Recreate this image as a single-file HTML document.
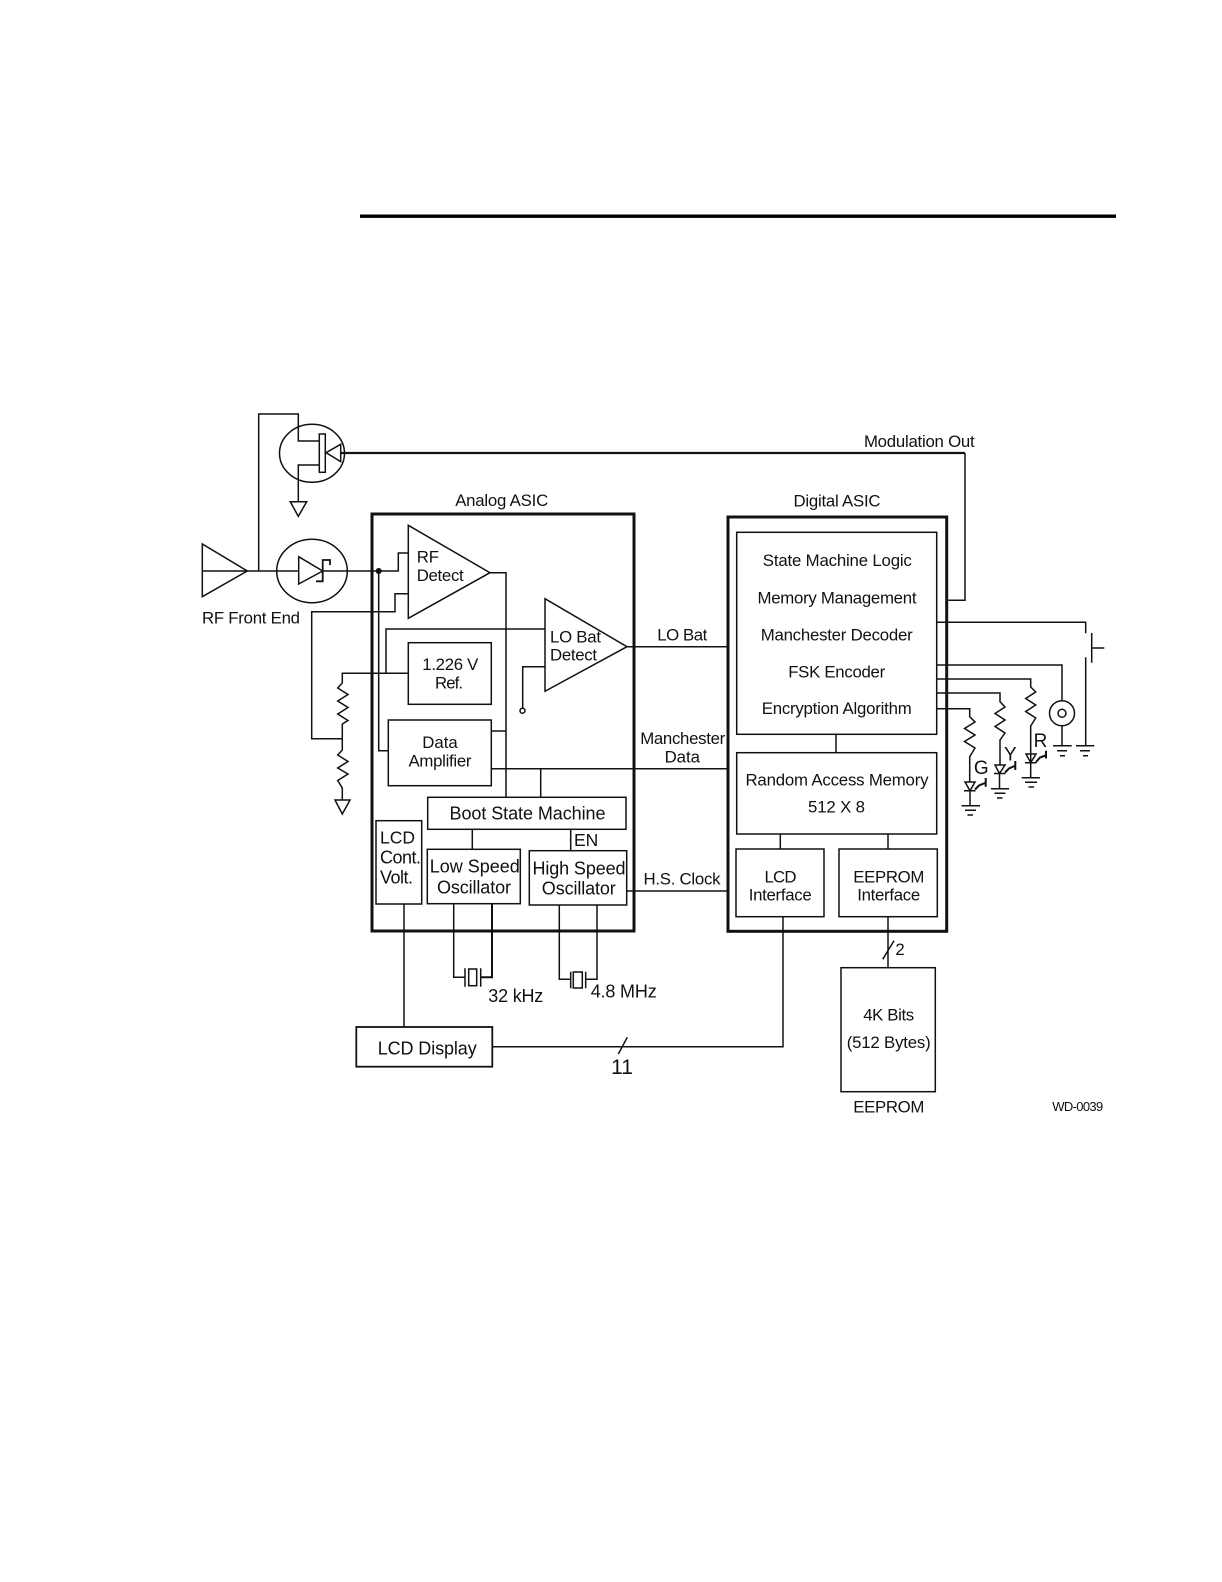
<!DOCTYPE html>
<html><head><meta charset="utf-8"><style>
html,body{margin:0;padding:0;background:#fff}
svg{display:block}
text{font-family:"Liberation Sans",Arial,sans-serif;font-size:16.8px;fill:#111;text-anchor:middle}
.s{text-anchor:start}
</style></head><body>
<svg xmlns="http://www.w3.org/2000/svg" width="1222" height="1582" viewBox="0 0 1222 1582">
<rect x="360" y="214.5" width="756" height="3.4" fill="#000"/>
<g fill="none" stroke="#111" stroke-width="1.5">
<!-- FET -->
<path d="M202.3 571H298.7M258.7 571V414H298.3V441H319M319 465H298.3V501.7"/>
<ellipse cx="312" cy="453.3" rx="32.5" ry="29"/>
<rect x="319.3" y="434" width="6" height="38.3"/>
<path d="M326 452.7L340.7 444.3V461.7Z"/>
<path d="M290.3 501.7H306.7L298.3 516.3Z"/>
<path d="M341 453H965" stroke-width="2.2"/>
<path d="M965 453V600.3H948.3"/>
<!-- antenna -->
<path d="M202.3 544V596.7L247.3 571Z"/>
<ellipse cx="312" cy="571" rx="35.3" ry="31.7"/>
<path d="M298.7 556.7V584L322.7 571Z"/>
<path d="M316 581.3H322.7V560H330V565" stroke-width="1.8"/>
<path d="M322.7 571H398.3V553H408.3"/>
<path d="M378.7 571V750.7H388.3"/>
<path d="M408.3 593.7H395V611.7H311.7V738.7H342.3"/>
<!-- analog -->
<rect x="372" y="514" width="262" height="417" stroke-width="3"/>
<path d="M408.3 525.3V618.3L490 572.7Z"/>
<path d="M490 572.7H506V797.3"/>
<path d="M545 598.7V691.3L627 646.7Z"/>
<path d="M545 629H386V673.3"/>
<path d="M545 666.7H522.7V708"/>
<circle cx="522.5" cy="710.7" r="2.5"/>
<rect x="408.3" y="642.7" width="83" height="61.6"/>
<path d="M408.3 673.3H342.3V683L337.7 688L348 694.5L337.7 701L348 707.5L337.7 714L348 720.5L342.3 724V750L337.7 755L348 761.5L337.7 768L348 774L337.7 780.5L342.3 788V800"/>
<path d="M335 800H350L342.3 814Z"/>
<rect x="388.3" y="720" width="103" height="65.7"/>
<path d="M491.3 731H506"/>
<path d="M491.3 768.7H728M540.7 768.7V797.3"/>
<rect x="427.7" y="797.3" width="198.3" height="32"/>
<rect x="376" y="820.7" width="45.7" height="83.3"/>
<rect x="427.3" y="849.3" width="93" height="54.4"/>
<rect x="529.3" y="850.7" width="97.4" height="54.3"/>
<path d="M472.3 829.3V849.3M570.7 829.3V850.7"/>
<path d="M626.7 891H728M627 646.7H728"/>
<!-- crystals -->
<path d="M453.7 903.7V977.3H465M465 968.3V986.7M480.7 968.3V986.7"/>
<path d="M480.7 977.3H492V903.7" stroke-width="2"/>
<rect x="468.7" y="969" width="8" height="16.7"/>
<path d="M559.3 905V979.3H570.7M570.7 971.7V988.3M585.7 971.7V988.3M585.7 979.3H597V905"/>
<rect x="573.3" y="972" width="9" height="16"/>
<!-- LCD -->
<path d="M404 904V1027"/>
<rect x="356.3" y="1027" width="136" height="39.7" stroke-width="1.8"/>
<path d="M492.3 1046.7H783V916.7M618.3 1054L627.3 1037.3"/>
<!-- digital -->
<rect x="728" y="517" width="218.7" height="414.3" stroke-width="3"/>
<rect x="736.7" y="532.3" width="200" height="202"/>
<rect x="736.7" y="752.7" width="200" height="81.3"/>
<rect x="736" y="849" width="88" height="67.7"/>
<rect x="839" y="849" width="98.3" height="67.7"/>
<path d="M836 734.3V752.7M780.3 834V849M888 834V849M888 916.7V967.5M882.7 959.3L894 940.7"/>
<rect x="841" y="967.7" width="94.3" height="124"/>
<!-- switch / speaker -->
<path d="M936.7 622.3H1085.7V633.3M1085.7 657.3V745.7"/>
<path d="M1091.7 633V662.7M1091.7 648H1104.3"/>
<path d="M936.7 665H1062V701M1062 725.8V745.7"/>
<circle cx="1062" cy="713.3" r="12.5"/>
<circle cx="1062" cy="713.3" r="4"/>
<path d="M1053 745.7H1071.7M1057 750.7H1067M1060 755.7H1065"/>
<path d="M1076 745.7H1094.3M1080 750.7H1090M1083 755.7H1088"/>
<!-- R -->
<path d="M936.7 679H1030.7V687L1035.7 692L1025.7 698.5L1035.7 705L1025.7 711.5L1035.7 718L1030.7 726V777"/>
<path d="M1026 754H1036L1030.7 762.7ZM1025 762.7H1036.5"/>
<path d="M1036 762L1040 757.5L1045.5 755.5M1046 750.7V758.5" stroke-width="2"/>
<path d="M1021.7 777.7H1040M1025 782.3H1037M1028.5 787H1034"/>
<!-- Y -->
<path d="M936.7 693H1000V701.7L1005 707L995 713.5L1005 720L995 726.5L1005 733L1000 740V765M999.5 773V788.7"/>
<path d="M995 765H1005L999.5 773.5ZM994 773.5H1005.5"/>
<path d="M1005 772.5L1009 768.5L1014.5 766M1015.3 761V770" stroke-width="2"/>
<path d="M991 788.7H1009M994.5 793.3H1005.5M997 798H1002.5"/>
<!-- G -->
<path d="M936.7 708.7H969.7V716.7L975 722L964.5 728.5L975 735L964.5 741.5L975 748L969.7 756.7V782M970 790V805.7"/>
<path d="M965 782H975L970 790.7ZM964 790.7H975.5"/>
<path d="M975 789.5L979 785.5L985 783M985.7 778V786.7" stroke-width="2"/>
<path d="M961.5 805.7H980M965 810.3H976M967.5 815H973"/>
</g>
<circle cx="378.7" cy="571" r="3" fill="#111"/>
<!-- labels -->
<text x="919.3" y="447" textLength="110.7">Modulation Out</text>
<text x="501.7" y="506" textLength="93">Analog ASIC</text>
<text x="837" y="506.7" textLength="87">Digital ASIC</text>
<text x="837.3" y="566" textLength="149">State Machine Logic</text>
<text x="837" y="603.3" textLength="159">Memory Management</text>
<text x="836.7" y="640.3" textLength="152">Manchester Decoder</text>
<text x="836.7" y="677.3" textLength="97">FSK Encoder</text>
<text x="836.7" y="714" textLength="150">Encryption Algorithm</text>
<text x="837" y="785.3" textLength="183">Random Access Memory</text>
<text x="836.5" y="812.7" textLength="57">512 X 8</text>
<text x="780.5" y="882.3" textLength="32">LCD</text>
<text x="780.2" y="900.7" textLength="63">Interface</text>
<text x="888.8" y="882.3" textLength="71">EEPROM</text>
<text x="888.7" y="900.7" textLength="63">Interface</text>
<text x="900" y="955">2</text>
<text x="888.7" y="1020.3" textLength="51">4K Bits</text>
<text x="888.7" y="1048" textLength="84">(512 Bytes)</text>
<text x="888.8" y="1112.7" textLength="71">EEPROM</text>
<text x="1077.7" y="1111" textLength="51" style="font-size:13px">WD-0039</text>
<text x="1040.5" y="747" style="font-size:19px">R</text>
<text x="1010.3" y="760.7" style="font-size:19px">Y</text>
<text x="981.3" y="774" style="font-size:19px">G</text>
<text x="251" y="623.3" textLength="98">RF Front End</text>
<text class="s" x="416.7" y="562.7">RF</text>
<text class="s" x="416.7" y="581" textLength="47">Detect</text>
<text class="s" x="550" y="642.3" textLength="51">LO Bat</text>
<text class="s" x="550" y="660.7" textLength="47">Detect</text>
<text x="450.3" y="670" textLength="56">1.226 V</text>
<text x="449" y="688.3" textLength="28">Ref.</text>
<text x="440" y="748">Data</text>
<text x="440" y="766.7" textLength="63">Amplifier</text>
<text x="682.3" y="640.7" textLength="50">LO Bat</text>
<text x="682.7" y="744" textLength="85">Manchester</text>
<text x="682.3" y="762.3">Data</text>
<text x="527.5" y="819.3" textLength="156" style="font-size:18px">Boot State Machine</text>
<text class="s" x="574" y="846" style="font-size:17.5px">EN</text>
<text class="s" x="380" y="843.3" style="font-size:17.5px">LCD</text>
<text class="s" x="380" y="863.3" textLength="41" style="font-size:18px">Cont.</text>
<text class="s" x="380" y="883.3" textLength="33" style="font-size:18px">Volt.</text>
<text x="474.8" y="872.7" textLength="90" style="font-size:18px">Low Speed</text>
<text x="474" y="893.3" textLength="74" style="font-size:18px">Oscillator</text>
<text x="579" y="874.3" textLength="93" style="font-size:18px">High Speed</text>
<text x="578.8" y="894.7" textLength="74" style="font-size:18px">Oscillator</text>
<text x="682" y="884.3" textLength="77">H.S. Clock</text>
<text x="515.8" y="1002" textLength="55" style="font-size:18px">32 kHz</text>
<text x="623.7" y="997.7" textLength="66" style="font-size:18px">4.8 MHz</text>
<text x="427.2" y="1054.3" textLength="99" style="font-size:18px">LCD Display</text>
<text x="622" y="1074" style="font-size:21px">11</text>
</svg>
</body></html>
